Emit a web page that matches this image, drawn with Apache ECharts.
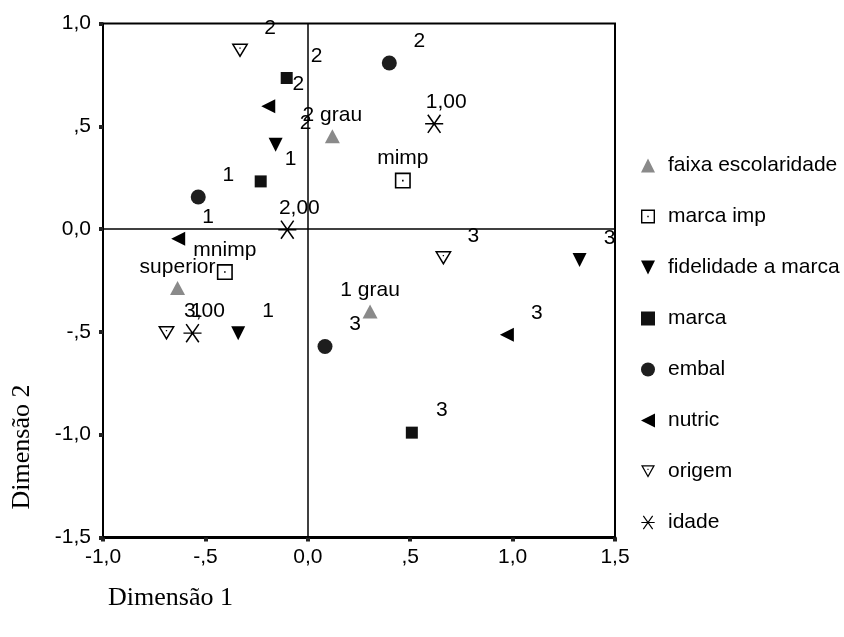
<!DOCTYPE html>
<html>
<head>
<meta charset="utf-8">
<script src="https://cdn.jsdelivr.net/npm/echarts@6/dist/echarts.min.js"></script>
<style>
  html, body { margin: 0; padding: 0; background: #fff; }
  #chart { width: 844px; height: 637px; }
</style>
</head>
<body>
<div id="chart"></div>
<script>
// tick values and their SPSS style labels
var xTicks = [-1, -0.5, 0, 0.5, 1, 1.5];
var xTickLabels = ['-1,0', '-,5', '0,0', ',5', '1,0', '1,5'];
var yTicks = [-1.5, -1, -0.5, 0, 0.5, 1];
var yTickLabels = ['-1,5', '-1,0', '-,5', '0,0', ',5', '1,0'];

// category points (dimensão 1, dimensão 2)
var faixaNames = ['2 grau', '1 grau', 'superior'];
var faixaX = [0.120, 0.304, -0.636];
var faixaY = [0.451, -0.401, -0.287];

var marcaImpNames = ['mimp', 'mnimp'];
var marcaImpX = [0.464, -0.405];
var marcaImpY = [0.236, -0.209];

var fidelidadeNames = ['2', '1', '3'];
var fidelidadeX = [-0.157, -0.340, 1.327];
var fidelidadeY = [0.410, -0.506, -0.150];

var marcaNames = ['2', '1', '3'];
var marcaX = [-0.103, -0.230, 0.508];
var marcaY = [0.735, 0.232, -0.990];

var embalNames = ['2', '1', '3'];
var embalX = [0.398, -0.535, 0.084];
var embalY = [0.808, 0.156, -0.571];

var nutricNames = ['2', '1', '3'];
var nutricX = [-0.193, -0.633, 0.972];
var nutricY = [0.597, -0.047, -0.514];

var origemNames = ['2', '1', '3'];
var origemX = [-0.331, -0.690, 0.662];
var origemY = [0.868, -0.506, -0.141];

var idadeNames = ['1,00', '2,00', '3,00'];
var idadeX = [0.617, -0.100, -0.563];
var idadeY = [0.512, -0.003, -0.506];

var FONT = '"Liberation Sans", Arial, sans-serif';
var FS = 21;

// symbols
var boxDot = 'path://M0,0H16V16H0Z M1.6,1.6V14.4H14.4V1.6Z M7.2,7.2H8.8V8.8H7.2Z';
var triDown = 'path://M0,0L14,0L7,14Z';
var triLeft = 'path://M14,0L14,14L0,7Z';
var triDownOpen = 'path://M0,0H18L9,16Z M2.74,1.6L9,12.74L15.26,1.6Z M8.3,4.6H9.7V6H8.3Z';
var star = 'path://M0,9.2H20V10.8H0Z M2.3,0.5L3.7,-0.5L17.7,19.5L16.3,20.5Z M16.3,-0.5L17.7,0.5L3.7,20.5L2.3,19.5Z';

function pts(names, xs, ys) {
    return names.map(function (n, i) {
        return { name: n, value: [xs[i], ys[i]] };
    });
}

function mk(name, data, symbol, size, color, offset) {
    return {
        name: name,
        type: 'scatter',
        data: data,
        symbol: symbol,
        symbolSize: size,
        symbolKeepAspect: true,
        itemStyle: { color: color, opacity: 1 },
        label: {
            show: true,
            position: 'inside',
            offset: offset,
            formatter: '{b}',
            color: '#000',
            fontFamily: FONT,
            fontSize: FS
        },
        emphasis: { disabled: true },
        z: 3
    };
}

var myChart = echarts.init(document.getElementById('chart'));

var series = [
    mk('faixa escolaridade', pts(faixaNames, faixaX, faixaY), 'triangle', [15, 14], '#8a8a8a', [0, -21]),
    mk('marca imp', pts(marcaImpNames, marcaImpX, marcaImpY), boxDot, 16, '#000', [0, -22]),
    mk('fidelidade a marca', pts(fidelidadeNames, fidelidadeX, fidelidadeY), triDown, 14, '#000', [30, -22]),
    mk('marca', pts(marcaNames, marcaX, marcaY), 'rect', 12, '#111', [30, -22]),
    mk('embal', pts(embalNames, embalX, embalY), 'circle', 15, '#1e1e1e', [30, -22]),
    mk('nutric', pts(nutricNames, nutricX, nutricY), triLeft, 14, '#000', [30, -22]),
    mk('origem', pts(origemNames, origemX, origemY), triDownOpen, [17, 16], '#000', [30, -22]),
    mk('idade', pts(idadeNames, idadeX, idadeY), star, 19, '#000', [12, -22])
];

// zero reference lines
series[0].markLine = {
    silent: true,
    symbol: ['none', 'none'],
    label: { show: false },
    lineStyle: { color: '#000', width: 1.5, type: 'solid' },
    data: [{ xAxis: 0 }, { yAxis: 0 }],
    z: 1
};

var option = {
    animation: false,
    backgroundColor: '#fff',
    grid: {
        left: 103, right: 229, top: 23.5, bottom: 99.5,
        show: true, borderColor: '#000', borderWidth: 2, backgroundColor: 'transparent'
    },
    legend: {
        orient: 'vertical',
        left: 636,
        top: 150,
        itemWidth: 14,
        itemHeight: 14,
        itemGap: 30,
        selectedMode: false,
        textStyle: { fontFamily: FONT, fontSize: FS, color: '#000', lineHeight: 21, padding: [0, 0, 0, 8] },
        data: series.map(function (s) { return s.name; })
    },
    xAxis: {
        type: 'value',
        min: -1, max: 1.5, interval: 0.5,
        axisLine: { show: true, onZero: false, lineStyle: { color: '#000', width: 3 } },
        axisTick: { show: true, length: 4, lineStyle: { color: '#222', width: 4 } },
        axisLabel: {
            margin: 9, color: '#000', fontFamily: FONT, fontSize: FS,
            formatter: function (v) {
                var i = xTicks.indexOf(Math.round(v * 10) / 10);
                return i >= 0 ? xTickLabels[i] : '';
            }
        },
        splitLine: { show: false }
    },
    yAxis: {
        type: 'value',
        min: -1.5, max: 1, interval: 0.5,
        axisLine: { show: true, onZero: false, lineStyle: { color: '#000', width: 2 } },
        axisTick: { show: true, length: 4, lineStyle: { color: '#222', width: 4 } },
        axisLabel: {
            margin: 12, color: '#000', fontFamily: FONT, fontSize: FS,
            formatter: function (v) {
                var i = yTicks.indexOf(Math.round(v * 10) / 10);
                return i >= 0 ? yTickLabels[i] : '';
            }
        },
        splitLine: { show: false }
    },
    graphic: [
        {
            type: 'text', left: 108, top: 585,
            style: { text: 'Dimensão 1', fontFamily: '"Liberation Serif", "Times New Roman", serif', fontSize: 26, fill: '#000' }
        },
        {
            type: 'text', x: 22, y: 447, rotation: Math.PI / 2,
            style: {
                text: 'Dimensão 2', fontFamily: '"Liberation Serif", "Times New Roman", serif', fontSize: 26,
                fill: '#000', align: 'center', verticalAlign: 'middle'
            }
        }
    ],
    series: series
};

myChart.setOption(option);
</script>
</body>
</html>
